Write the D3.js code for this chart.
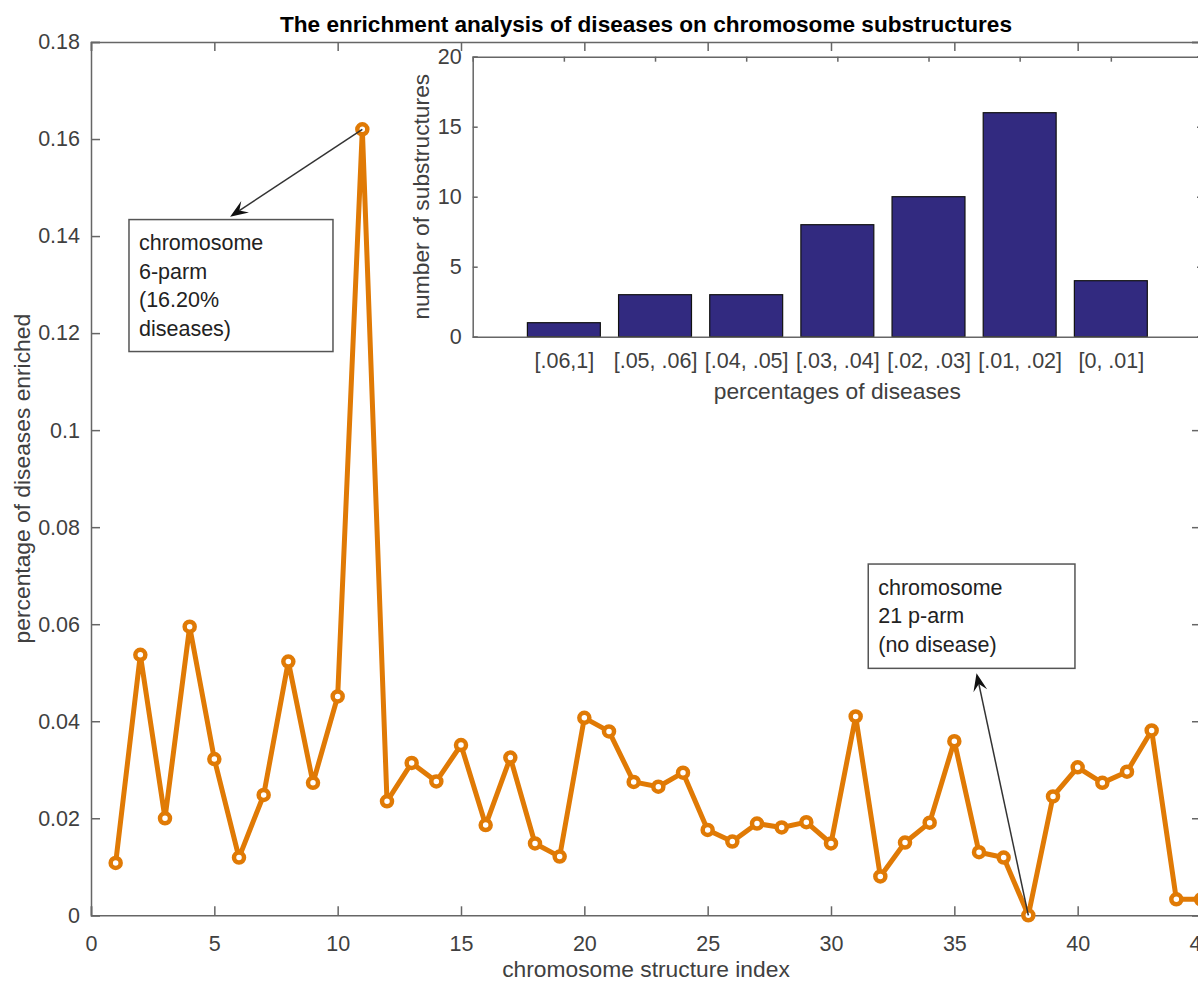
<!DOCTYPE html>
<html>
<head>
<meta charset="utf-8">
<script src="https://cdn.jsdelivr.net/npm/d3@7"></script>
<style>
  html, body { margin: 0; padding: 0; background: #fff; }
  svg { display: block; font-family: "Liberation Sans", Arial, Helvetica, sans-serif; }
</style>
</head>
<body>
<svg id="chart" width="1198" height="981"></svg>
<script>
// ---------------- data ----------------
const structureIndex = d3.range(1, 46);
const enrichment = [
  0.0108, 0.0537, 0.0200, 0.0595, 0.0322, 0.0119, 0.0248, 0.0523, 0.0273, 0.0451,
  0.1620, 0.0235, 0.0314, 0.0276, 0.0351, 0.0186, 0.0325, 0.0148, 0.0121, 0.0407,
  0.0379, 0.0275, 0.0265, 0.0294, 0.0176, 0.0152, 0.0189, 0.0181, 0.0192, 0.0148,
  0.0410, 0.0080, 0.0150, 0.0191, 0.0359, 0.0130, 0.0119, 0.0000, 0.0245, 0.0305,
  0.0273, 0.0296, 0.0381, 0.0033, 0.0033
];
const mainXTicks = [0, 5, 10, 15, 20, 25, 30, 35, 40, 45];
const mainYTicks = [0, 0.02, 0.04, 0.06, 0.08, 0.1, 0.12, 0.14, 0.16, 0.18];
const mainYTickLabels = ["0", "0.02", "0.04", "0.06", "0.08", "0.1", "0.12", "0.14", "0.16", "0.18"];

const binLabels = ["[.06,1]", "[.05, .06]", "[.04, .05]", "[.03, .04]", "[.02, .03]", "[.01, .02]", "[0, .01]"];
const binCounts = [1, 3, 3, 8, 10, 16, 4];
const insetYTicks = [0, 5, 10, 15, 20];

const titleText = "The enrichment analysis of diseases on chromosome substructures";
const xLabelText = "chromosome structure index";
const yLabelText = "percentage of diseases enriched";
const insetXLabelText = "percentages of diseases";
const insetYLabelText = "number of substructures";

// annotations (in data units of main axes)
const annotations = [
  { lines: ["chromosome", "6-parm", "(16.20%", "diseases)"], box: [1.54, 9.81, 0.1434, 0.1162], from: [11, 0.162], to: [5.64, 0.1440] },
  { lines: ["chromosome", "21 p-arm", "(no disease)"], box: [31.51, 39.89, 0.0724, 0.0509], from: [38, 0.0], to: [35.9, 0.0499] }
];

// ---------------- layout ----------------
const svg = d3.select("#chart");
const axisColor = "#666";
const textColor = "#404040";
const lineColor = "#E07A05";
const barColor = "#322A80";
const tickFont = 21.5;
const labelFont = 22.8;

const M = { left: 91, right: 1201, top: 42, bottom: 915.3 };
const x = d3.scaleLinear().domain([0, 45]).range([M.left, M.right]);
const y = d3.scaleLinear().domain([0, 0.18]).range([M.bottom, M.top]);

// title
svg.append("text").attr("x", (M.left + M.right) / 2).attr("y", 32)
  .attr("text-anchor", "middle").attr("font-size", 22.6).attr("font-weight", "bold")
  .attr("fill", "#000").text(titleText);

// main axes using d3 axes
const tickLen = 9;
const gx = svg.append("g").attr("transform", `translate(0,${M.bottom})`)
  .call(d3.axisBottom(x).tickValues(mainXTicks).tickSize(-tickLen).tickPadding(20).tickFormat(d3.format("d")));
const gxTop = svg.append("g").attr("transform", `translate(0,${M.top})`)
  .call(d3.axisTop(x).tickValues(mainXTicks).tickSize(-tickLen).tickFormat(""));
const gy = svg.append("g").attr("transform", `translate(${M.left},0)`)
  .call(d3.axisLeft(y).tickValues(mainYTicks).tickSize(-tickLen).tickPadding(11)
    .tickFormat((d, i) => mainYTickLabels[i]));
const gyR = svg.append("g").attr("transform", `translate(${M.right},0)`)
  .call(d3.axisRight(y).tickValues(mainYTicks).tickSize(-tickLen).tickFormat(""));

[gx, gxTop, gy, gyR].forEach(g => {
  g.select(".domain").attr("stroke", axisColor).attr("stroke-width", 1.5);
  g.selectAll(".tick line").attr("stroke", axisColor).attr("stroke-width", 1.5);
  g.selectAll(".tick text").attr("fill", textColor).attr("font-size", tickFont)
    .attr("font-family", "Liberation Sans, Arial, sans-serif");
});
gx.selectAll(".tick text").attr("dy", "0.71em");

// axis labels
svg.append("text").attr("x", (M.left + M.right) / 2).attr("y", 977)
  .attr("text-anchor", "middle").attr("font-size", labelFont).attr("fill", textColor).text(xLabelText);
svg.append("text").attr("transform", `translate(30,${(M.top + M.bottom) / 2}) rotate(-90)`)
  .attr("text-anchor", "middle").attr("font-size", labelFont).attr("fill", textColor).text(yLabelText);

// line + markers
const line = d3.line().x((d, i) => x(structureIndex[i])).y(d => y(d));
svg.append("path").datum(enrichment).attr("d", line)
  .attr("fill", "none").attr("stroke", lineColor).attr("stroke-width", 5)
  .attr("stroke-linejoin", "round");
svg.append("g").selectAll("circle").data(enrichment).join("circle")
  .attr("cx", (d, i) => x(structureIndex[i])).attr("cy", d => y(d))
  .attr("r", 5).attr("fill", "#fff").attr("stroke", lineColor).attr("stroke-width", 4.5);

// annotations
annotations.forEach(a => {
  const [x0, x1, yTop, yBot] = a.box;
  const bx = x(x0), by = y(yTop), bw = x(x1) - x(x0), bh = y(yBot) - y(yTop);
  svg.append("rect").attr("x", bx).attr("y", by).attr("width", bw).attr("height", bh)
    .attr("fill", "#fff").attr("stroke", "#555").attr("stroke-width", 1.5);
  a.lines.forEach((t, i) => {
    svg.append("text").attr("x", bx + 10).attr("y", by + 30.7 + i * 28.5)
      .attr("font-size", 21.5).attr("fill", "#222").text(t);
  });
  const sx = x(a.from[0]), sy = y(a.from[1]);
  const ex = x(a.to[0]), ey = y(a.to[1]);
  const ang = Math.atan2(ey - sy, ex - sx);
  const L = 18, W = 7, notch = 11;
  const ux = Math.cos(ang), uy = Math.sin(ang), px = -uy, py = ux;
  svg.append("line").attr("x1", sx).attr("y1", sy)
    .attr("x2", ex - ux * notch).attr("y2", ey - uy * notch)
    .attr("stroke", "#333").attr("stroke-width", 1.5);
  const p = [
    [ex, ey],
    [ex - ux * L + px * W, ey - uy * L + py * W],
    [ex - ux * notch, ey - uy * notch],
    [ex - ux * L - px * W, ey - uy * L - py * W]
  ];
  svg.append("path").attr("d", "M" + p.map(q => q.join(",")).join("L") + "Z").attr("fill", "#111");
});

// ---------------- inset ----------------
const I = { left: 472.7, right: 1202, top: 56.7, bottom: 336.7 };
const xi = d3.scaleLinear().domain([0, 8]).range([I.left, I.right]);
const yi = d3.scaleLinear().domain([0, 20]).range([I.bottom, I.top]);

svg.append("rect").attr("x", I.left).attr("y", I.top)
  .attr("width", I.right - I.left).attr("height", I.bottom - I.top).attr("fill", "#fff");

const binPos = binLabels.map((d, i) => i + 1);
svg.append("g").selectAll("rect").data(binCounts).join("rect")
  .attr("x", (d, i) => xi(binPos[i] - 0.4)).attr("width", xi(0.8) - xi(0))
  .attr("y", d => yi(d)).attr("height", d => yi(0) - yi(d))
  .attr("fill", barColor).attr("stroke", "#111").attr("stroke-width", 1.2);

const iTick = 5;
const gix = svg.append("g").attr("transform", `translate(0,${I.bottom})`)
  .call(d3.axisBottom(xi).tickValues(binPos).tickSize(0).tickPadding(16)
    .tickFormat((d, i) => binLabels[i]));
const gixTop = svg.append("g").attr("transform", `translate(0,${I.top})`)
  .call(d3.axisTop(xi).tickValues(binPos).tickSize(-iTick).tickFormat(""));
const giy = svg.append("g").attr("transform", `translate(${I.left},0)`)
  .call(d3.axisLeft(yi).tickValues(insetYTicks).tickSize(-iTick).tickPadding(11).tickFormat(d3.format("d")));
const giyR = svg.append("g").attr("transform", `translate(${I.right},0)`)
  .call(d3.axisRight(yi).tickValues(insetYTicks).tickSize(-iTick).tickFormat(""));
[gix, gixTop, giy, giyR].forEach(g => {
  g.select(".domain").attr("stroke", axisColor).attr("stroke-width", 1.5);
  g.selectAll(".tick line").attr("stroke", axisColor).attr("stroke-width", 1.5);
  g.selectAll(".tick text").attr("fill", textColor).attr("font-size", tickFont)
    .attr("font-family", "Liberation Sans, Arial, sans-serif");
});
gix.selectAll(".tick text").attr("dy", "0.71em");

svg.append("text").attr("x", (I.left + I.right) / 2).attr("y", 399)
  .attr("text-anchor", "middle").attr("font-size", labelFont).attr("fill", textColor).text(insetXLabelText);
svg.append("text").attr("transform", `translate(429,${(I.top + I.bottom) / 2}) rotate(-90)`)
  .attr("text-anchor", "middle").attr("font-size", labelFont).attr("fill", textColor).text(insetYLabelText);
</script>
</body>
</html>
